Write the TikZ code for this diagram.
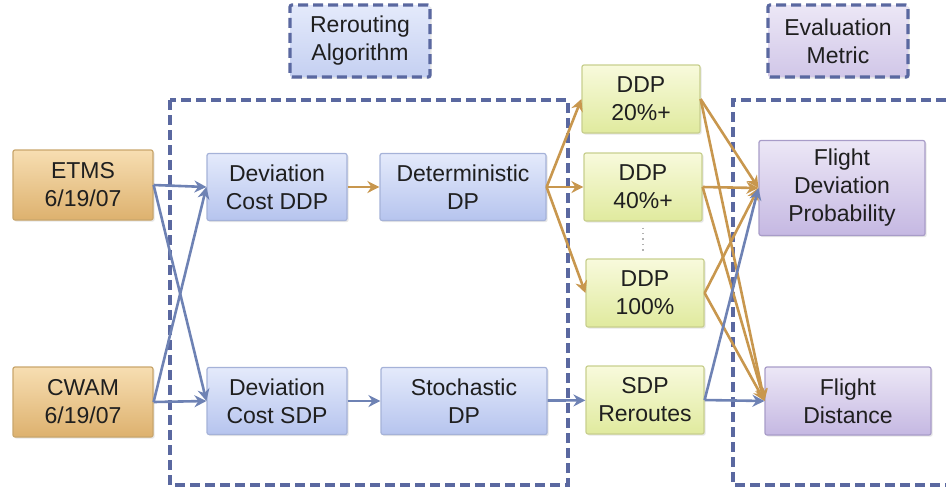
\documentclass[tikz,border=0pt]{standalone}
\usepackage{fontspec}
\setmainfont{Liberation Sans}
\usetikzlibrary{arrows.meta,shadows}

\definecolor{naranjaA}{HTML}{F7DEB2}
\definecolor{naranjaB}{HTML}{DDB16E}
\definecolor{bordeNar}{HTML}{C9A66C}
\definecolor{azulA}{HTML}{E4EAFB}
\definecolor{azulB}{HTML}{B6C4EE}
\definecolor{bordeAzul}{HTML}{A5B2D8}
\definecolor{verdeA}{HTML}{F8FADC}
\definecolor{verdeB}{HTML}{E0EA9E}
\definecolor{bordeVerde}{HTML}{C8CF8E}
\definecolor{moradoA}{HTML}{ECE7F6}
\definecolor{moradoB}{HTML}{C5B8E2}
\definecolor{bordeMorado}{HTML}{A89CC8}
\definecolor{marco}{HTML}{5A68A0}
\definecolor{flechaNar}{HTML}{C8974E}
\definecolor{flechaAz}{HTML}{6E82B4}

\begin{document}
\begin{tikzpicture}[x=0.5pt,y=-0.5pt,
    caja/.style={draw, rounded corners=1pt, line width=0.6pt, align=center,
        text=black!88, font=\fontsize{11.5}{14}\selectfont, inner sep=0pt,
        drop shadow={opacity=0.2,shadow xshift=0.8pt,shadow yshift=-0.8pt}},
    entrada/.style={caja, draw=bordeNar, top color=naranjaA, bottom color=naranjaB,
        minimum width=70pt, minimum height=35pt},
    algo/.style={caja, draw=bordeAzul, top color=azulA, bottom color=azulB,
        minimum width=70pt, minimum height=33.5pt},
    salida/.style={caja, draw=bordeVerde, top color=verdeA, bottom color=verdeB,
        minimum width=59pt, minimum height=34pt},
    metrica/.style={caja, draw=bordeMorado, top color=moradoA, bottom color=moradoB,
        minimum width=83pt, minimum height=34pt},
    marcoDash/.style={draw=marco, line width=1.6pt, dash pattern=on 5pt off 2.5pt},
    etiqueta/.style={caja, marcoDash, rounded corners=1pt,
        minimum width=70pt, minimum height=36pt},
    flechaA/.style={draw=flechaAz, line width=1.3pt, -{Stealth[length=6pt,width=6pt]}},
    flechaN/.style={draw=flechaNar, line width=1.3pt, -{Stealth[length=6pt,width=6pt]}}]

    \useasboundingbox (0,0) rectangle (946,488);

    % Marcos punteados
    \draw[marcoDash] (170,100) rectangle (568,485);
    \draw[marcoDash] (946,100) -- (733,100) -- (733,485) -- (946,485);

    % Etiquetas de los marcos
    \node[etiqueta, top color=azulA, bottom color=azulB!80] (rerouting) at (360,41) {Rerouting\\Algorithm};
    \node[etiqueta, top color=moradoA, bottom color=moradoB!80] (evaluacion) at (838,41) {Evaluation\\Metric};

    % Datos de entrada
    \node[entrada] (etms) at (83,185) {ETMS\\6/19/07};
    \node[entrada] (cwam) at (83,402) {CWAM\\6/19/07};

    % Algoritmos
    \node[algo] (devddp) at (277,187) {Deviation\\Cost DDP};
    \node[algo] (devsdp) at (277,401) {Deviation\\Cost SDP};
    \node[algo, minimum width=83pt] (detdp) at (463,187) {Deterministic\\DP};
    \node[algo, minimum width=83pt] (stodp) at (464,401) {Stochastic\\DP};

    % Rutas resultantes
    \node[salida] (ddp20) at (641,99) {DDP\\20\%+};
    \node[salida] (ddp40) at (643,187) {DDP\\40\%+};
    \node[salida] (ddp100) at (645,293) {DDP\\100\%};
    \node[salida] (sdpr) at (645,400) {SDP\\Reroutes};
    \draw[gray!60, dotted, line width=0.7pt, shorten <=3pt, shorten >=3pt]
        (ddp40.south) -- (ddp40.south |- ddp100.north);

    % Metricas
    \node[metrica, minimum height=47.5pt] (fdp) at (842,188) {Flight\\Deviation\\Probability};
    \node[metrica] (fd) at (848,401) {Flight\\Distance};

    % Flechas de entrada
    \draw[flechaA] (etms.east) -- (devddp.west);
    \draw[flechaA] (etms.east) -- (devsdp.west);
    \draw[flechaA] (cwam.east) -- (devddp.west);
    \draw[flechaA] (cwam.east) -- (devsdp.west);

    % Rama determinista
    \draw[flechaN] (devddp) -- (detdp);
    \foreach \r in {ddp20,ddp40,ddp100}
        \draw[flechaN] (detdp.east) -- (\r.west);
    \foreach \r in {ddp20,ddp40,ddp100} {
        \draw[flechaN] (\r.east) -- (fdp.west);
        \draw[flechaN] (\r.east) -- (fd.west);
    }

    % Rama estocastica
    \draw[flechaA] (devsdp) -- (stodp);
    \draw[flechaA] (stodp) -- (sdpr);
    \draw[flechaA] (sdpr.east) -- (fdp.west);
    \draw[flechaA] (sdpr.east) -- (fd.west);
\end{tikzpicture}
\end{document}
